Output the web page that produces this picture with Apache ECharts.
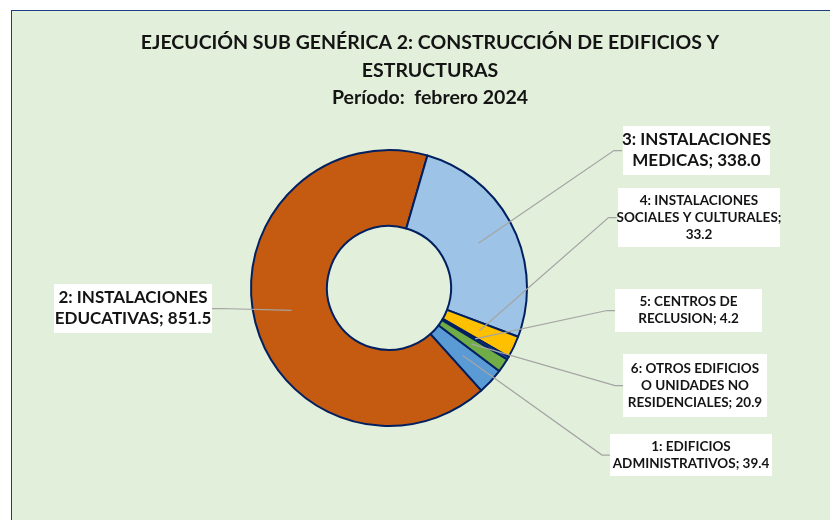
<!DOCTYPE html>
<html>
<head>
<meta charset="utf-8">
<script src="https://cdn.jsdelivr.net/npm/echarts@6/dist/echarts.min.js"></script>
<style>
  html, body { margin: 0; padding: 0; background: #ffffff; }
  #frame { position: absolute; left: 11px; top: 10px; width: 830px; height: 520px;
           background: #e2efda; border: 1.5px solid #203c86; }
  #chart { position: absolute; left: 0; top: 0; width: 830px; height: 520px; }
</style>
</head>
<body>
<div id="frame"></div>
<div id="chart"></div>
<script>
// ---- data ----
const categories = [
  '1: EDIFICIOS ADMINISTRATIVOS',
  '2: INSTALACIONES EDUCATIVAS',
  '3: INSTALACIONES MEDICAS',
  '4: INSTALACIONES SOCIALES Y CULTURALES',
  '5: CENTROS DE RECLUSION',
  '6: OTROS EDIFICIOS O UNIDADES NO RESIDENCIALES'
];
const values = [39.4, 851.5, 338.0, 33.2, 4.2, 20.9];
const labelTemplates = [
  '1: EDIFICIOS\nADMINISTRATIVOS; {v}',
  '2: INSTALACIONES\nEDUCATIVAS; {v}',
  '3: INSTALACIONES\nMEDICAS; {v}',
  '4: INSTALACIONES\nSOCIALES Y CULTURALES;\n{v}',
  '5: CENTROS DE\nRECLUSION; {v}',
  '6: OTROS EDIFICIOS\nO UNIDADES NO\nRESIDENCIALES; {v}'
];
const titleText = 'EJECUCIÓN SUB GENÉRICA 2: CONSTRUCCIÓN DE EDIFICIOS Y\nESTRUCTURAS\nPeríodo:  febrero 2024';

// ---- styling ----
const colors = ['#5b9bd5', '#c55a11', '#9dc3e6', '#ffc000', '#4472c4', '#70ad47'];
// label box: left, top, width, height, fontSize, lineHeight
const labelBoxes = [
  [610, 434, 162, 42, 13.5, 17],
  [54, 284, 158, 49, 17, 21],
  [623, 126, 147, 49, 17, 21],
  [618, 188, 162, 59, 13.5, 17],
  [615, 289, 147, 43, 13.5, 17],
  [623, 354, 144, 63, 13.5, 17]
];
const FONT = 'Lato, "Noto Sans", sans-serif';
const CENTER = [389, 288];

const ringData = values.map((v, i) => ({
  value: v, name: categories[i], itemStyle: { color: colors[i] }
}));

const labelData = values.map((v, i) => {
  const b = labelBoxes[i];
  const nLines = labelTemplates[i].split('\n').length;
  const padY = (b[3] - nLines * b[5]) / 2;
  return {
    value: v, name: categories[i],
    label: {
      fontSize: b[4], lineHeight: b[5],
      width: b[2] - 8,
      padding: [padY, 4, padY, 4]
    }
  };
});

const chart = echarts.init(document.getElementById('chart'), null, { renderer: 'canvas' });
chart.setOption({
  backgroundColor: 'transparent',
  animation: false,
  title: {
    text: titleText,
    left: 425, top: 24, textAlign: 'center',
    textStyle: { fontFamily: FONT, fontWeight: 'bold', fontSize: 19.5, lineHeight: 27.5, color: '#141414' }
  },
  series: [
    {
      type: 'pie',
      silent: true,
      z: 1,
      center: CENTER,
      radius: [62, 138],
      startAngle: -37,
      clockwise: true,
      label: { show: false },
      labelLine: { show: false },
      emphasis: { disabled: true },
      itemStyle: { borderColor: '#002060', borderWidth: 2 },
      data: ringData
    },
    {
      type: 'pie',
      silent: true,
      z: 5,
      center: CENTER,
      radius: [62, 100],
      startAngle: -37,
      clockwise: true,
      avoidLabelOverlap: false,
      emphasis: { disabled: true },
      itemStyle: { color: 'rgba(0,0,0,0)', borderWidth: 0 },
      label: {
        show: true,
        position: 'outside',
        fontFamily: FONT,
        fontWeight: 'bold',
        color: '#141414',
        backgroundColor: '#ffffff',
        align: 'center',
        overflow: 'none',
        formatter: p => labelTemplates[p.dataIndex].replace('{v}', p.value.toFixed(1))
      },
      labelLine: {
        show: true, length: 10, length2: 8,
        lineStyle: { color: '#a5a5a5', width: 1.25 }
      },
      labelLayout: params => {
        const b = labelBoxes[params.dataIndex];
        return { x: b[0] + b[2] / 2, y: b[1], align: 'center', verticalAlign: 'top' };
      },
      data: labelData
    }
  ]
});
</script>
</body>
</html>
